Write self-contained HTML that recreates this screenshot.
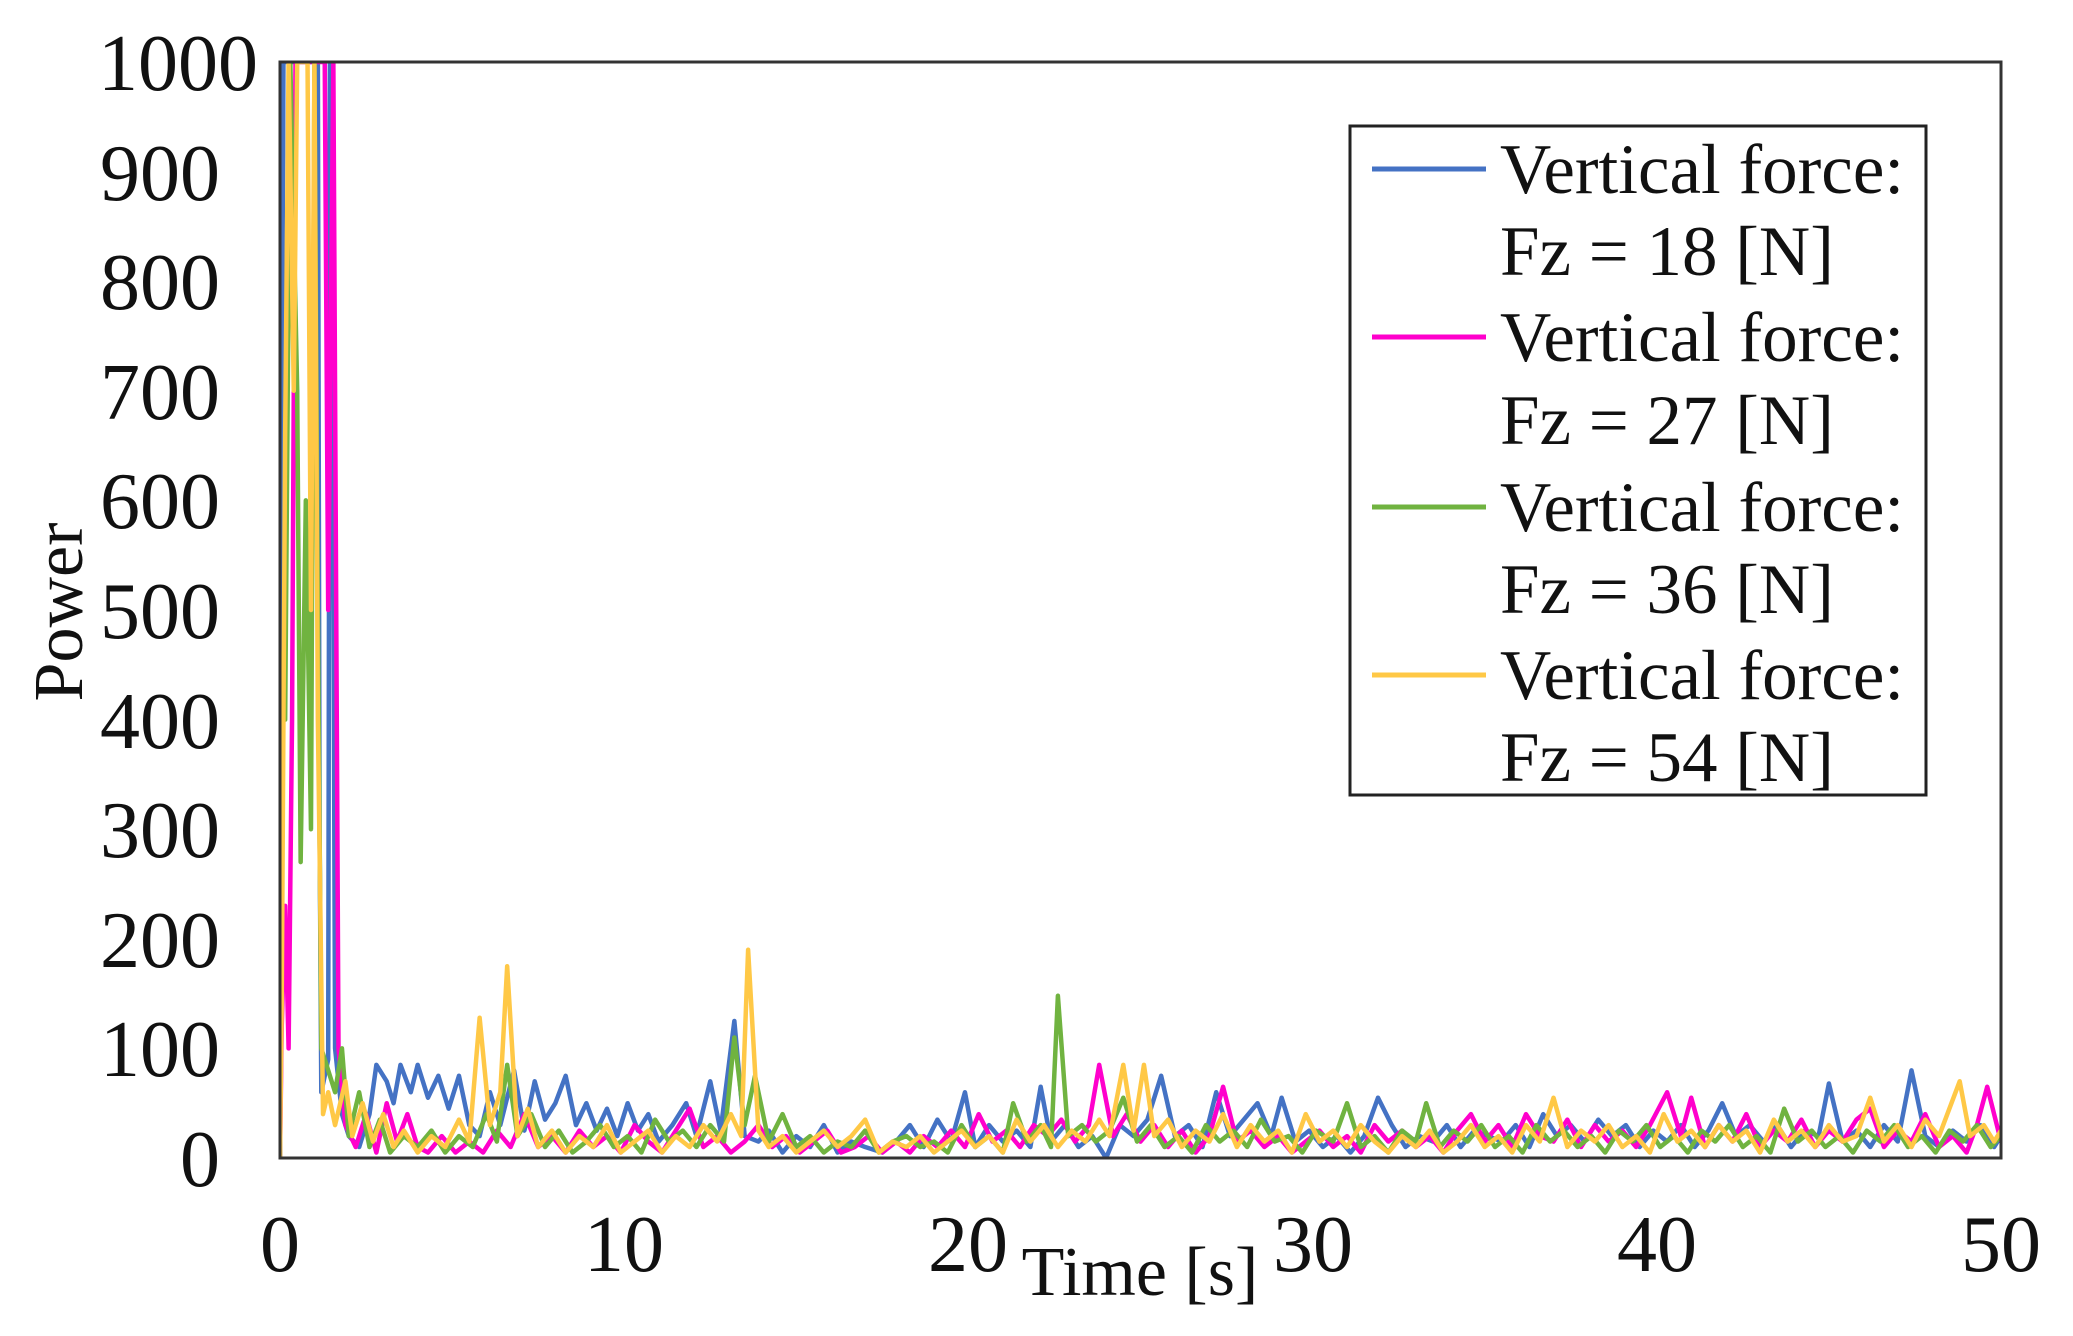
<!DOCTYPE html>
<html><head><meta charset="utf-8"><style>
html,body{margin:0;padding:0;background:#fff;}
svg{display:block;font-family:"Liberation Serif",serif;}
</style></head><body>
<svg width="2073" height="1336" viewBox="0 0 2073 1336" xmlns="http://www.w3.org/2000/svg">
<rect width="2073" height="1336" fill="#fff"/>
<defs><clipPath id="c"><rect x="280" y="62" width="1721" height="1096"/></clipPath></defs>
<g clip-path="url(#c)">
<g transform="translate(280,1158) scale(34.42,-1.096)" fill="none" stroke-width="4.5" stroke-linejoin="round">
<polyline vector-effect="non-scaling-stroke" stroke="#4472c4" points="0,0 0.05,650 0.1,1000 1.1,1000 1.15,300 1.2,60 1.4,90 1.45,1000 1.5,1000 1.6,100 1.8,40 2,20 2.3,10 2.6,40 2.8,85 3.1,70 3.3,50 3.5,85 3.8,60 4.0,85 4.3,55 4.6,75 4.9,45 5.2,75 5.5,30 5.8,20 6.1,60 6.4,30 6.8,80 7.1,25 7.4,70 7.7,35 8,50 8.3,75 8.6,30 8.9,50 9.2,25 9.5,45 9.8,20 10.1,50 10.4,25 10.7,40 11,15 11.4,30 11.8,50 12.1,20 12.5,70 12.8,25 13.2,125 13.5,20 13.9,15 14.2,25 14.6,5 15,20 15.4,10 15.8,30 16.2,5 16.6,15 17,10 17.5,5 17.9,15 18.3,30 18.7,10 19.1,35 19.5,15 19.9,60 20.2,10 20.6,30 21,15 21.4,25 21.8,10 22.1,65 22.4,15 22.8,30 23.2,10 23.6,20 24,0 24.4,30 24.8,20 25.2,35 25.6,75 26,20 26.4,30 26.8,10 27.2,60 27.6,20 28,35 28.4,50 28.8,20 29.1,55 29.5,15 29.9,25 30.3,10 30.7,20 31.1,5 31.5,20 31.9,55 32.3,30 32.7,10 33.1,20 33.5,15 33.9,30 34.3,10 34.7,25 35.1,20 35.5,15 35.9,30 36.3,10 36.7,40 37.1,20 37.5,30 37.9,15 38.3,35 38.7,20 39.1,30 39.5,10 39.9,25 40.3,15 40.7,30 41.1,10 41.5,25 41.9,50 42.3,20 42.7,30 43.1,15 43.5,30 43.9,10 44.3,25 44.7,20 45,68 45.4,15 45.8,25 46.2,10 46.6,30 47,15 47.4,80 47.8,20 48.2,10 48.6,25 49,15 49.4,30 49.8,10 50,20"/>
<polyline vector-effect="non-scaling-stroke" stroke="#ff00cc" points="0,0 0.05,120 0.15,230 0.25,100 0.35,400 0.45,1000 1.3,1000 1.4,500 1.55,1000 1.6,700 1.7,100 1.9,30 2.2,10 2.5,40 2.8,5 3.1,50 3.4,15 3.7,40 4,10 4.3,5 4.7,20 5.1,5 5.5,15 5.9,5 6.3,25 6.7,10 7.1,40 7.5,10 7.9,20 8.3,5 8.7,25 9.1,10 9.5,20 9.9,5 10.3,30 10.7,15 11.1,5 11.5,25 11.9,45 12.3,10 12.7,20 13.1,5 13.5,15 13.9,30 14.3,10 14.7,20 15.1,5 15.5,15 15.9,25 16.3,5 16.7,10 17.1,20 17.5,5 17.9,15 18.3,5 18.7,20 19.1,10 19.5,25 19.9,10 20.3,40 20.7,15 21.1,25 21.5,10 21.9,30 22.3,20 22.7,35 23.1,15 23.5,30 23.8,85 24.2,20 24.6,40 25,15 25.4,30 25.8,10 26.2,25 26.6,5 27,20 27.4,65 27.8,15 28.2,25 28.6,10 29,20 29.4,5 29.8,15 30.2,25 30.6,10 31,20 31.4,5 31.8,30 32.2,15 32.6,25 33,10 33.4,20 33.8,5 34.2,25 34.6,40 35,15 35.4,30 35.8,10 36.2,40 36.6,20 37,15 37.4,35 37.8,10 38.2,30 38.6,15 39,25 39.4,10 39.8,30 40.3,60 40.7,20 41,55 41.4,10 41.8,30 42.2,15 42.6,40 43,10 43.4,25 43.8,15 44.2,35 44.6,10 45,25 45.4,15 45.8,35 46.2,45 46.6,10 47,25 47.4,15 47.8,40 48.2,10 48.6,20 49,5 49.3,30 49.6,65 50,15"/>
<polyline vector-effect="non-scaling-stroke" stroke="#70b340" points="0,0 0.05,460 0.15,400 0.3,1000 0.5,700 0.6,270 0.75,600 0.9,300 1.0,1000 1.1,500 1.2,100 1.4,80 1.6,60 1.8,100 2,20 2.3,60 2.6,10 2.9,35 3.2,5 3.6,20 4,10 4.4,25 4.8,5 5.2,20 5.6,10 6,40 6.3,15 6.6,85 6.9,20 7.3,40 7.7,10 8.1,25 8.5,5 8.9,15 9.3,30 9.7,10 10.1,20 10.5,5 10.9,35 11.3,15 11.7,25 12.1,10 12.5,30 12.9,15 13.2,110 13.5,30 13.8,75 14.2,15 14.6,40 15,10 15.4,20 15.8,5 16.2,15 16.6,10 17,25 17.4,5 17.8,15 18.2,20 18.6,10 19,15 19.4,5 19.8,30 20.2,10 20.6,20 21,5 21.3,50 21.7,15 22.1,30 22.4,10 22.6,148 22.9,20 23.3,30 23.7,15 24.1,25 24.5,55 24.9,15 25.3,30 25.7,10 26.1,20 26.5,5 26.9,30 27.3,15 27.7,25 28.1,10 28.5,35 28.9,15 29.3,20 29.7,5 30.1,25 30.6,15 31,50 31.4,10 31.8,20 32.2,5 32.6,25 33,15 33.3,50 33.7,10 34.1,25 34.5,15 34.9,30 35.3,10 35.7,20 36.1,5 36.5,30 36.9,15 37.3,25 37.7,10 38.1,20 38.5,5 38.9,25 39.3,15 39.7,30 40.1,10 40.5,20 40.9,5 41.3,25 41.7,15 42.1,30 42.5,10 42.9,20 43.3,5 43.7,45 44.1,15 44.5,25 44.9,10 45.3,20 45.7,5 46.1,25 46.5,15 46.9,30 47.3,10 47.7,20 48.1,5 48.5,25 48.9,15 49.3,30 49.7,10 50,20"/>
<polyline vector-effect="non-scaling-stroke" stroke="#ffc846" points="0,0 0.05,140 0.15,660 0.25,1000 0.4,700 0.5,1000 0.8,1000 0.9,500 1.0,1000 1.1,400 1.25,40 1.4,60 1.6,30 1.9,70 2.1,20 2.4,50 2.7,15 3,40 3.3,10 3.6,25 4,5 4.4,20 4.8,10 5.2,35 5.5,15 5.8,128 6.1,30 6.4,60 6.6,175 6.9,20 7.2,45 7.5,10 7.9,25 8.3,5 8.7,20 9.1,10 9.5,30 9.9,5 10.3,15 10.7,25 11.1,5 11.5,20 11.9,10 12.3,30 12.7,15 13.1,40 13.4,20 13.6,190 13.9,25 14.2,10 14.6,20 15,5 15.4,15 15.8,25 16.2,10 16.6,20 17,35 17.4,5 17.8,15 18.2,10 18.6,20 19,5 19.4,15 19.8,25 20.2,10 20.6,20 21,5 21.4,35 21.8,15 22.2,30 22.6,10 23,25 23.4,15 23.8,35 24.1,20 24.5,85 24.8,25 25.1,85 25.4,20 25.8,35 26.2,10 26.6,25 27,15 27.4,40 27.8,10 28.2,30 28.6,15 29,25 29.4,5 29.8,40 30.2,15 30.6,25 31,10 31.4,30 31.8,15 32.2,5 32.6,20 33,10 33.4,25 33.8,5 34.2,15 34.6,30 35,10 35.4,20 35.8,5 36.2,30 36.6,15 37,55 37.4,10 37.8,25 38.2,15 38.6,30 39,10 39.4,20 39.8,5 40.2,40 40.6,15 41,25 41.4,10 41.8,30 42.2,15 42.6,25 43,5 43.4,35 43.8,15 44.2,25 44.6,10 45,30 45.4,15 45.8,20 46.2,55 46.6,15 47,30 47.4,10 47.8,35 48.2,20 48.5,45 48.8,70 49.1,20 49.5,30 49.8,15 50,25"/>
</g>
</g>
<rect x="280" y="62" width="1721" height="1096" fill="none" stroke="#333" stroke-width="3"/>
<g font-size="80" fill="#111" text-anchor="end">
<text x="258" y="90">1000</text><text x="220" y="200">900</text><text x="220" y="309">800</text>
<text x="220" y="419">700</text><text x="220" y="528">600</text><text x="220" y="638">500</text>
<text x="220" y="748">400</text><text x="220" y="857">300</text><text x="220" y="967">200</text>
<text x="220" y="1076">100</text><text x="220" y="1186">0</text>
</g>
<g font-size="80" fill="#111" text-anchor="middle">
<text x="280" y="1271">0</text><text x="624" y="1271">10</text><text x="968" y="1271">20</text>
<text x="1313" y="1271">30</text><text x="1657" y="1271">40</text><text x="2001" y="1271">50</text>
</g>
<g font-size="70" fill="#111" text-anchor="middle">
<text x="1140" y="1295">Time [s]</text>
<text transform="translate(82,612) rotate(-90)">Power</text>
</g>
<rect x="1350" y="126" width="576" height="669" fill="#fff" stroke="#222" stroke-width="3"/>
<g font-size="71" fill="#111">
<line x1="1372" y1="169" x2="1486" y2="169" stroke="#4472c4" stroke-width="5"/>
<text x="1500" y="193">Vertical force:</text><text x="1500" y="275">Fz = 18 [N]</text>
<line x1="1372" y1="337" x2="1486" y2="337" stroke="#ff00cc" stroke-width="5"/>
<text x="1500" y="361">Vertical force:</text><text x="1500" y="444">Fz = 27 [N]</text>
<line x1="1372" y1="507" x2="1486" y2="507" stroke="#70b340" stroke-width="5"/>
<text x="1500" y="531">Vertical force:</text><text x="1500" y="613">Fz = 36 [N]</text>
<line x1="1372" y1="675" x2="1486" y2="675" stroke="#ffc846" stroke-width="5"/>
<text x="1500" y="699">Vertical force:</text><text x="1500" y="781">Fz = 54 [N]</text>
</g>
</svg>
</body></html>
